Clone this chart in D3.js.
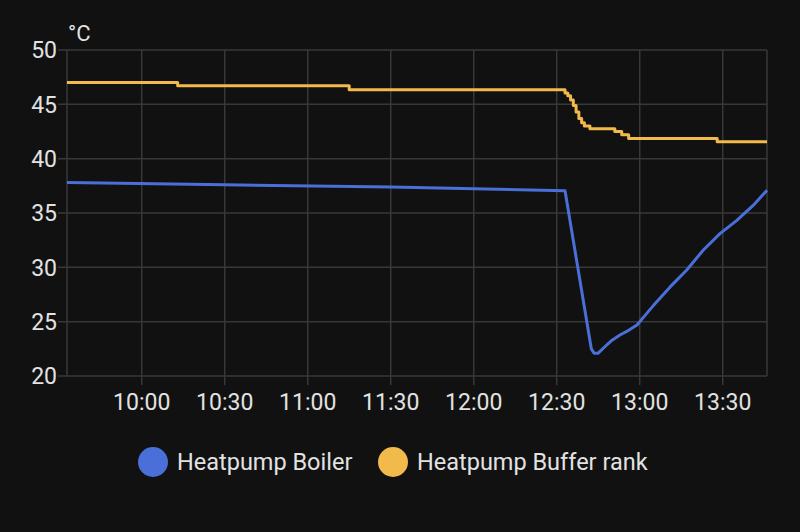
<!DOCTYPE html>
<html><head><meta charset="utf-8">
<script src="https://cdn.jsdelivr.net/npm/d3@7"></script>
<style>
html,body{margin:0;padding:0;background:#111111;}
svg{display:block;font-family:Roboto,"Noto Sans",sans-serif;}
</style></head>
<body><svg id="c" width="800" height="532"></svg>
<script>
// ---- data ----
const seriesNames = ["Heatpump Boiler", "Heatpump Buffer rank"];
const seriesColors = ["#4a6fd8", "#f2b94b"];
const boilerTimes = ["09:33","10:30","11:30","12:33","12:42:30","12:43:30","12:45","12:47","12:50","12:53","12:56","12:59","13:02","13:05","13:11","13:17","13:23","13:29","13:35","13:41","13:46"];
const boilerValues = [37.8,37.6,37.4,37.05,22.5,22.1,22.1,22.6,23.3,23.8,24.2,24.7,25.6,26.5,28.2,29.75,31.6,33.1,34.3,35.7,37.1];
const bufferTimes = ["09:33","10:13","11:15","12:33","12:34","12:35","12:36","12:37","12:38","12:39","12:40","12:42","12:51","12:53:30","12:56","13:28","13:46"];
const bufferValues = [47.0,46.7,46.35,46.05,45.8,45.4,44.9,44.3,43.7,43.3,43.0,42.75,42.5,42.2,41.85,41.55,41.55];
const yTicks = [20,25,30,35,40,45,50];
const xTickLabels = ["10:00","10:30","11:00","11:30","12:00","12:30","13:00","13:30"];
const xDomain = ["09:33","13:46"];
const yDomain = [20,50];
const unitLabel = "°C";

// ---- build ----
const parse = s => {
  const p = s.split(":").map(Number);
  return new Date(2024,0,1,p[0],p[1],p[2]||0);
};
const svg = d3.select("#c");
const W = 800, H = 532;
const m = {left:67, right:33, top:50, bottom:156};
const x = d3.scaleTime().domain(xDomain.map(parse)).range([m.left, W-m.right]);
const y = d3.scaleLinear().domain(yDomain).range([H-m.bottom, m.top]);
const grid = "#383838", txt = "#e2e2e2";

// vertical grid
const g = svg.append("g");
xTickLabels.forEach(t=>{
  const xx = x(parse(t));
  g.append("line").attr("x1",xx).attr("x2",xx).attr("y1",m.top).attr("y2",H-m.bottom+9)
   .attr("stroke",grid).attr("stroke-width",1.5);
  g.append("text").attr("x",xx).attr("y",H-m.bottom+34).attr("text-anchor","middle")
   .attr("fill",txt).attr("font-size",23).text(t);
});
[m.left, W-m.right].forEach(xx=>{
  g.append("line").attr("x1",xx).attr("x2",xx).attr("y1",m.top).attr("y2",H-m.bottom)
   .attr("stroke",grid).attr("stroke-width",1.5);
});
yTicks.forEach(v=>{
  const yy = y(v);
  g.append("line").attr("x1",m.left-9).attr("x2",W-m.right).attr("y1",yy).attr("y2",yy)
   .attr("stroke",grid).attr("stroke-width",1.5);
  g.append("text").attr("x",m.left-10).attr("y",yy).attr("dy","0.36em").attr("text-anchor","end")
   .attr("fill",txt).attr("font-size",23).text(v);
});
svg.append("text").attr("x",m.left+1).attr("y",41).attr("fill",txt).attr("font-size",22).text(unitLabel);

const boiler = boilerTimes.map((t,i)=>({t:parse(t),v:boilerValues[i]}));
const buffer = bufferTimes.map((t,i)=>({t:parse(t),v:bufferValues[i]}));
svg.append("path").datum(boiler)
  .attr("d", d3.line().x(d=>x(d.t)).y(d=>y(d.v)))
  .attr("fill","none").attr("stroke",seriesColors[0]).attr("stroke-width",3).attr("stroke-linejoin","round");
svg.append("path").datum(buffer)
  .attr("d", d3.line().x(d=>x(d.t)).y(d=>y(d.v)).curve(d3.curveStepAfter))
  .attr("fill","none").attr("stroke",seriesColors[1]).attr("stroke-width",3).attr("stroke-linejoin","round");

// legend
const lg = svg.append("g");
const legendX = [153, 393];
seriesNames.forEach((n,i)=>{
  lg.append("circle").attr("cx",legendX[i]).attr("cy",462).attr("r",15).attr("fill",seriesColors[i]);
  lg.append("text").attr("x",legendX[i]+24).attr("y",462).attr("dy","0.36em")
    .attr("fill",txt).attr("font-size",23.5).text(n);
});
</script></body></html>
